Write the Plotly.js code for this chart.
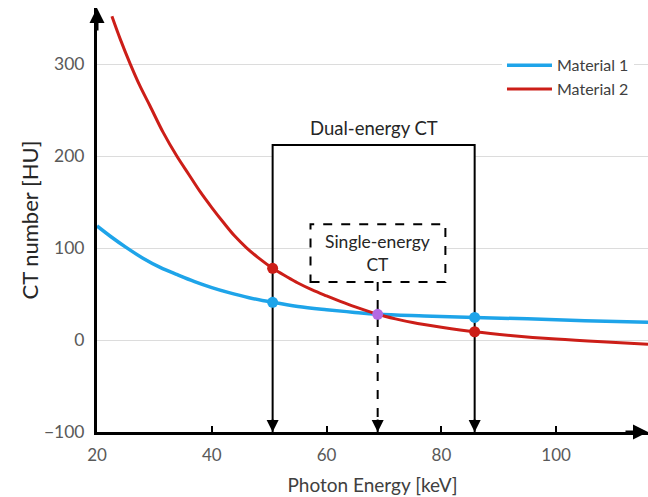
<!DOCTYPE html>
<html>
<head>
<meta charset="utf-8">
<script src="https://cdn.plot.ly/plotly-3.0.1.min.js"></script>
<style>
html,body{margin:0;padding:0;background:#fff;}
#chart{width:648px;height:497px;}
</style>
</head>
<body>
<div id="chart"></div>
<script>
// Material curves
const energyM1 = [20, 22.5, 25, 28, 31, 34, 37, 40, 43, 46.5, 50.6, 55, 60, 64.5, 68.9, 77, 85.8, 95, 105, 116];
const ctM1 = [124, 112, 101, 89, 79, 71, 63.5, 57, 51.5, 46, 41, 36.5, 33, 30.3, 28, 26.2, 24.6, 23.0, 21.0, 19.2];
const energyM2 = [22.6, 24, 25.8, 27.5, 29.2, 31.5, 33.9, 36, 38, 40, 42, 44, 46.1, 48.3, 50.6, 53, 55, 57.5, 60, 62.5, 65, 68.9, 72, 75, 80, 85.8, 92, 100, 108, 116];
const ctM2 = [352, 328, 300, 276, 255, 226, 200, 180, 161, 144, 128, 113, 100, 88.5, 78, 69, 62, 54.5, 48, 41.8, 36, 28, 23, 19, 14, 9, 5, 1, -2, -4.5];

// Dual-energy and single-energy sample points
const dualEnergies = [50.6, 85.8];
const dualM1 = [41, 24.6];
const dualM2 = [78, 9];
const singleEnergy = [68.9];
const singleCT = [28];

const seriesNames = ['Material 1', 'Material 2'];
const xTicks = [20, 40, 60, 80, 100];
const yTicks = [-100, 0, 100, 200, 300];
const dualBoxTop = 212;
const singleBox = {x0: 57.2, x1: 80.7, y0: 63, y1: 126};

const xRange = [20, 116];
const yRange = [-100, 361];

const blue = '#1ea4e9', red = '#cc1e18', purple = '#b36ae2';
const font = 'Lato, "Open Sans", sans-serif';

const traces = [
  {x: energyM1, y: ctM1, name: seriesNames[0], mode: 'lines', line: {color: blue, width: 3.5, shape: 'spline', smoothing: 1}},
  {x: energyM2, y: ctM2, name: seriesNames[1], mode: 'lines', line: {color: red, width: 3, shape: 'spline', smoothing: 1}},
  {x: dualEnergies, y: dualM1, mode: 'markers', showlegend: false, marker: {color: blue, size: 11}},
  {x: dualEnergies, y: dualM2, mode: 'markers', showlegend: false, marker: {color: red, size: 11}},
  {x: singleEnergy, y: singleCT, mode: 'markers', showlegend: false, marker: {color: purple, size: 11}}
];

const shapes = [
  {type: 'rect', xref: 'x', yref: 'y', x0: dualEnergies[0], x1: dualEnergies[1], y0: 196, y1: dualBoxTop,
   fillcolor: '#fff', line: {width: 0}, layer: 'between'},
  {type: 'path', xref: 'x', yref: 'y', layer: 'between',
   path: 'M ' + dualEnergies[0] + ',' + yRange[0] + ' L ' + dualEnergies[0] + ',' + dualBoxTop +
         ' L ' + dualEnergies[1] + ',' + dualBoxTop + ' L ' + dualEnergies[1] + ',' + yRange[0],
   line: {color: '#000', width: 2}},
  {type: 'rect', xref: 'x', yref: 'y', x0: singleBox.x0, x1: singleBox.x1, y0: singleBox.y0, y1: singleBox.y1,
   fillcolor: '#fff', line: {color: '#000', width: 2, dash: 'dash'}, layer: 'between'},
  {type: 'line', xref: 'x', yref: 'y', x0: singleEnergy[0], x1: singleEnergy[0], y0: singleBox.y0, y1: yRange[0],
   line: {color: '#000', width: 2, dash: 'dash'}, layer: 'between'}
];

const arrowHead = (x) => ({x: x, y: yRange[0], xref: 'x', yref: 'y', ax: 0, ay: -14, showarrow: true,
  arrowhead: 2, arrowsize: 1.2, arrowwidth: 2, arrowcolor: '#000', text: ''});

const annotations = [
  arrowHead(dualEnergies[0]), arrowHead(dualEnergies[1]), arrowHead(singleEnergy[0]),
  {x: xRange[0], y: yRange[1], xref: 'x', yref: 'y', ax: 0, ay: 24, showarrow: true, arrowhead: 2,
   arrowsize: 1, arrowwidth: 3, arrowcolor: '#000', text: ''},
  {x: xRange[1], y: yRange[0], xref: 'x', yref: 'y', ax: -24, ay: 0, showarrow: true, arrowhead: 2,
   arrowsize: 1, arrowwidth: 3, arrowcolor: '#000', text: ''},
  {x: (dualEnergies[0] + dualEnergies[1]) / 2, y: 231, xref: 'x', yref: 'y', showarrow: false,
   text: 'Dual-energy CT', font: {family: font, size: 18.5, color: '#262626'}},
  {x: singleEnergy[0], y: (singleBox.y0 + singleBox.y1) / 2, xref: 'x', yref: 'y', showarrow: false,
   text: 'Single-energy<br>CT', font: {family: font, size: 17.5, color: '#262626'}}
];

const layout = {
  width: 648, height: 497,
  margin: {l: 97, r: 0, t: 8, b: 65},
  paper_bgcolor: '#fff', plot_bgcolor: '#fff',
  font: {family: font},
  showlegend: true,
  legend: {x: 0.735, y: 0.905, xanchor: 'left', yanchor: 'top', bgcolor: '#fff',
           font: {family: font, size: 16, color: '#404040'}, itemwidth: 45},
  xaxis: {
    range: xRange, tickvals: xTicks, showgrid: false, zeroline: false,
    showline: true, linecolor: '#000', linewidth: 3,
    ticks: 'inside', ticklen: 6, tickwidth: 2, tickcolor: '#000', ticklabelstandoff: 6,
    tickfont: {family: font, size: 17, color: '#595959'},
    title: {text: 'Photon Energy [keV]', font: {family: font, size: 19, color: '#404040'}, standoff: 15}
  },
  yaxis: {
    range: yRange, tickvals: yTicks, showgrid: true, gridcolor: '#dcdcdc', gridwidth: 1, zeroline: false,
    showline: true, linecolor: '#000', linewidth: 3, ticks: '', ticklabelstandoff: 6,
    tickfont: {family: font, size: 17.5, color: '#595959'},
    title: {text: 'CT number [HU]', font: {family: font, size: 22, color: '#262626'}, standoff: 0}
  },
  shapes: shapes,
  annotations: annotations
};

Plotly.newPlot('chart', traces, layout, {displayModeBar: false, staticPlot: true});
</script>
</body>
</html>
